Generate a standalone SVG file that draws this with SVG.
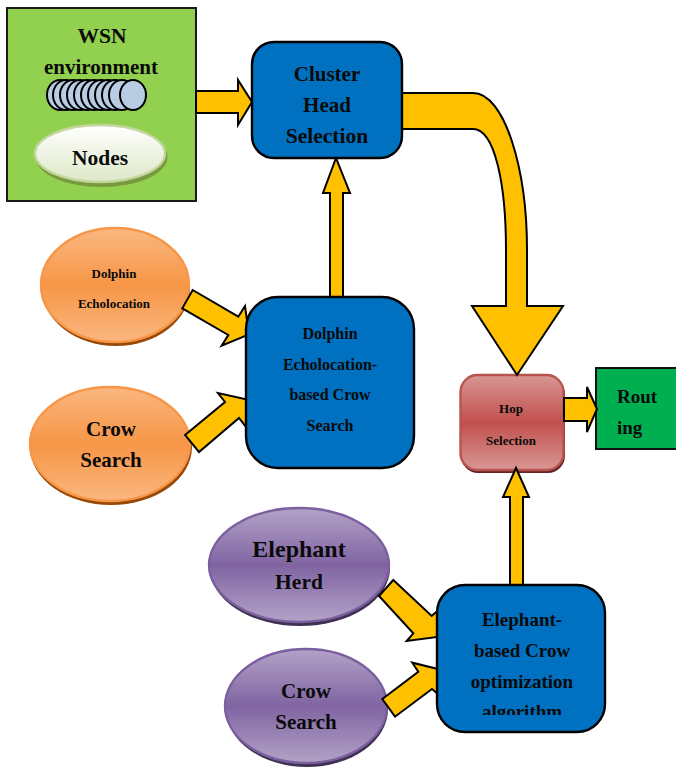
<svg xmlns="http://www.w3.org/2000/svg" width="676" height="769" viewBox="0 0 676 769">
<style>
text{font-family:"Liberation Serif","Times New Roman",serif;font-weight:bold;fill:#0a0a0a;text-anchor:middle}
.arrow{fill:#ffc000;stroke:#000;stroke-width:2;stroke-linejoin:miter}
.blue{fill:#0070c0;stroke:#000;stroke-width:2.4}
.cyl{fill:#b8cce4;stroke:#000;stroke-width:2}
.or{fill:url(#orange);stroke:#f79646;stroke-width:2.4}
.pu{fill:url(#purple);stroke:#7b5f9f;stroke-width:2.4}
</style>
<defs>
<linearGradient id="orange" x1="0" y1="0" x2="0" y2="1"><stop offset="0" stop-color="#fab780"/><stop offset=".5" stop-color="#f79646"/><stop offset="1" stop-color="#fab780"/></linearGradient>
<linearGradient id="purple" x1="0" y1="0" x2="0" y2="1"><stop offset="0" stop-color="#b3a2c7"/><stop offset=".5" stop-color="#8064a2"/><stop offset="1" stop-color="#b3a2c7"/></linearGradient>
<linearGradient id="red" x1="0" y1="0" x2="0" y2="1"><stop offset="0" stop-color="#d99694"/><stop offset=".5" stop-color="#c0504d"/><stop offset="1" stop-color="#d99694"/></linearGradient>
<linearGradient id="white" x1="0" y1="0" x2="0" y2="1"><stop offset="0" stop-color="#ffffff"/><stop offset="1" stop-color="#dde8c8"/></linearGradient>
<clipPath id="algo"><rect x="437" y="585" width="168" height="130"/></clipPath>
</defs>

<g id="wsn">
<rect x="7" y="8" width="189" height="193" fill="#92d050" stroke="#1a1a1a" stroke-width="2"/>
<text x="102" y="43" font-size="21.5">WSN</text>
<text x="101" y="74" font-size="21">environment</text>
<g id="cylinders">
<ellipse class="cyl" cx="60" cy="95" rx="13" ry="15"/>
<ellipse class="cyl" cx="66" cy="95" rx="13" ry="15"/>
<ellipse class="cyl" cx="73" cy="95" rx="13" ry="15"/>
<ellipse class="cyl" cx="80" cy="95" rx="13" ry="15"/>
<ellipse class="cyl" cx="87" cy="95" rx="13" ry="15"/>
<ellipse class="cyl" cx="94" cy="95" rx="13" ry="15"/>
<ellipse class="cyl" cx="101" cy="95" rx="13" ry="15"/>
<ellipse class="cyl" cx="108" cy="95" rx="13" ry="15"/>
<ellipse class="cyl" cx="115" cy="95" rx="13" ry="15"/>
<ellipse class="cyl" cx="122" cy="95" rx="13" ry="15"/>
<ellipse class="cyl" cx="133" cy="95" rx="13" ry="15"/>
</g>
</g>

<g id="nodes">
<ellipse cx="101.500" cy="157" rx="66" ry="30" fill="#76923c" fill-opacity=".9"/>
<ellipse cx="100" cy="153.500" rx="65" ry="28.500" fill="url(#white)" stroke="#c3d69b" stroke-width="2.400"/>
<text x="100" y="165" font-size="21.500">Nodes</text>
</g>

<g id="dolphin-echolocation">
<ellipse cx="116" cy="288" rx="74" ry="58" fill="#984807"/>
<ellipse class="or" cx="115" cy="285" rx="74" ry="57"/>
<text x="114" y="278" font-size="13">Dolphin</text>
<text x="114" y="308" font-size="13">Echolocation</text>
</g>

<g id="crow-search-1">
<ellipse cx="111" cy="447" rx="81" ry="58" fill="#984807"/>
<ellipse class="or" cx="110" cy="444" rx="80" ry="57"/>
<text x="111" y="436" font-size="21">Crow</text>
<text x="111" y="467" font-size="21">Search</text>
</g>

<g id="elephant-herd">
<ellipse cx="300" cy="568" rx="90" ry="58" fill="#3f3151"/>
<ellipse class="pu" cx="299" cy="565" rx="90" ry="57"/>
<text x="299" y="557" font-size="24">Elephant</text>
<text x="299" y="589" font-size="21.500">Herd</text>
</g>

<g id="crow-search-2">
<ellipse cx="307" cy="709" rx="81" ry="58" fill="#3f3151"/>
<ellipse class="pu" cx="306" cy="706" rx="81" ry="57"/>
<text x="306" y="698" font-size="21">Crow</text>
<text x="306" y="729" font-size="21">Search</text>
</g>

<g id="hop-selection">
<rect x="461" y="377" width="104" height="96" rx="17" fill="#632523"/>
<rect x="460.500" y="375" width="103" height="95" rx="17" fill="url(#red)" stroke="#b85450" stroke-width="2.400"/>
<text x="511" y="413" font-size="13">Hop</text>
<text x="511" y="445" font-size="13">Selection</text>
</g>

<g id="routing">
<rect x="596" y="368" width="84" height="81" fill="#00b050" stroke="#111" stroke-width="2"/>
<text x="617" y="403" font-size="19" style="text-anchor:start">Rout</text>
<text x="617" y="434" font-size="19" style="text-anchor:start">ing</text>
</g>

<g id="connectors">
<polygon class="arrow" points="196,91 238,91 238,80 252,102 238,125 238,113 196,113"/>
<polygon class="arrow" points="330,297 330,193 323,193 336,158 350,193 343,193 343,297"/>
<path class="arrow" d="M402,93 L473,93 C505,93 527,170 527,250 L527,306 L563,306 L517,375 L472,306 L506,306 L506,250 C506,185 495,129 473,129 L402,129 Z"/>
<polygon class="arrow" points="192.7,290 238.3,316.7 245,306 249,334.3 221.7,345.7 228.3,335 182.3,308.3"/>
<polygon class="arrow" points="185,435 225,402 218,393 258,402 250,432 239,418 199,452"/>
<polygon class="arrow" points="564,398 587,398 587,387 597,409 587,432 587,421 564,421"/>
<polygon class="arrow" points="510,590 510,497 503,497 516,468 529,497 523,497 523,590"/>
<polygon class="arrow" points="393.3,580 431.7,616 438.3,610 445,636 406.7,641 413.3,633.3 379,596"/>
<polygon class="arrow" points="382.3,699 418.3,671.7 412.3,662.7 450,672 445,700 432,689 395,716.7"/>
</g>

<g id="cluster-head">
<rect class="blue" x="252" y="42" width="150" height="116" rx="22"/>
<text x="327" y="81" font-size="21">Cluster</text>
<text x="327" y="112" font-size="21">Head</text>
<text x="327" y="143" font-size="21.500">Selection</text>
</g>

<g id="decs">
<rect class="blue" x="246" y="297" width="168" height="171" rx="32"/>
<text x="330" y="339" font-size="16">Dolphin</text>
<text x="330" y="370" font-size="16">Echolocation-</text>
<text x="330" y="400" font-size="16">based Crow</text>
<text x="330" y="431" font-size="16">Search</text>
</g>

<g id="elephant-crow">
<rect class="blue" x="437" y="585" width="168" height="147" rx="28"/>
<text x="522" y="626" font-size="19">Elephant-</text>
<text x="522" y="657" font-size="19">based Crow</text>
<text x="522" y="688" font-size="19">optimization</text>
<text x="522" y="718" font-size="19" clip-path="url(#algo)">algorithm</text>
</g>
</svg>
